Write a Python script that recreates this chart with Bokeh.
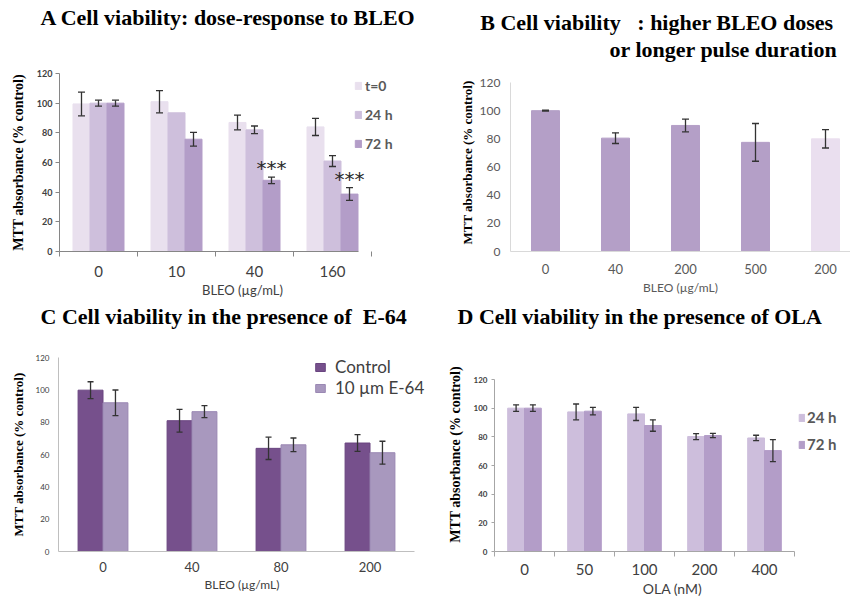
from bokeh.plotting import figure
from bokeh.models import (Range1d, FixedTicker, Whisker, TeeHead, ColumnDataSource,
                          Legend, LegendItem, Title)
from bokeh.layouts import row, column
from bokeh.embed import file_html
from bokeh.resources import INLINE

# ---------------- data ----------------
# Panel A
a_doses = ["0", "10", "40", "160"]
a_series = ["t=0", "24 h", "72 h"]
a_t0 = [99.5, 101, 87, 84]
a_t0_err = [8, 7.5, 5, 5.8]
a_24 = [100, 93.5, 82, 61]
a_24_err = [2, 0, 2.6, 3.7]
a_72 = [100, 75.7, 48, 38.7]
a_72_err = [2, 4.6, 2.2, 4.3]
a_sig = ["", "", "***", "***"]

# Panel B
b_doses = ["0", "40", "200", "500", "200"]
b_vals = [100, 80.5, 89.5, 77.5, 80]
b_err = [0.3, 3.8, 4.5, 13.4, 6.5]

# Panel C
c_doses = ["0", "40", "80", "200"]
c_series = ["Control", "10 µm E-64"]
c_ctrl = [99.8, 80.9, 63.8, 67.1]
c_ctrl_err = [5.2, 7, 6.9, 5.2]
c_e64 = [92, 86.5, 66, 61.1]
c_e64_err = [7.9, 3.7, 4.2, 7.1]

# Panel D
d_doses = ["0", "50", "100", "200", "400"]
d_series = ["24 h", "72 h"]
d_24 = [100, 97.4, 96, 80.2, 79.2]
d_24_err = [2.3, 5.5, 4.6, 2.1, 1.9]
d_72 = [100, 97.9, 87.9, 80.9, 70.4]
d_72_err = [2.3, 2.6, 4, 1.5, 7.7]

y_ticks = [0, 20, 40, 60, 80, 100, 120]
y_max = 120
y_title = "MTT absorbance (% control)"

SERIF = "Liberation Serif"
SANS = "Lato"
ERR = "#333333"


def base_fig(w, h, frame_w, px_per_cat, frame_h, data_h, bl, br, bt, bb):
    x_end = -0.5 + frame_w / px_per_cat
    y_end = y_max * frame_h / data_h
    p = figure(width=w, height=h, x_range=Range1d(-0.5, x_end), y_range=Range1d(0, y_end),
               output_backend="svg", toolbar_location=None, title=None,
               min_border_left=bl, min_border_right=br, min_border_top=bt, min_border_bottom=bb)
    p.outline_line_color = None
    p.grid.visible = False
    p.background_fill_color = "white"
    p.border_fill_color = "white"
    return p


def style_axes(p, cats, x_title, y_tick_font, y_tick_bold, y_tick_out, x_tick_font,
               x_title_font, axis_col, x_std, x_lab_std, y_std, y_lab_std, y_title_size,
               minor=False, tick_col="#404040", x_bounds=None):
    n = len(cats)
    if minor:
        xt = FixedTicker(ticks=list(range(n)), minor_ticks=[i - 0.5 for i in range(n + 1)])
    else:
        xt = FixedTicker(ticks=list(range(n)), minor_ticks=[])
    p.xaxis.ticker = xt
    if x_bounds is not None:
        p.xaxis.bounds = x_bounds
    p.xaxis.major_label_overrides = {i: c for i, c in enumerate(cats)}
    p.xaxis.major_tick_out = 0
    p.xaxis.major_tick_in = 0
    p.xaxis.major_tick_line_color = None
    if minor:
        p.xaxis.minor_tick_out = 5
        p.xaxis.minor_tick_in = 0
        p.xaxis.minor_tick_line_color = axis_col
    else:
        p.xaxis.minor_tick_line_color = None
    p.xaxis.axis_line_color = axis_col
    p.xaxis.major_label_text_font = SANS
    p.xaxis.major_label_text_font_size = x_tick_font
    p.xaxis.major_label_text_color = tick_col
    p.xaxis.major_label_standoff = x_std
    p.xaxis.axis_label = x_title
    p.xaxis.axis_label_text_font = SANS
    p.xaxis.axis_label_text_font_size = x_title_font
    p.xaxis.axis_label_text_font_style = "normal"
    p.xaxis.axis_label_text_color = tick_col
    p.xaxis.axis_label_standoff = x_lab_std

    p.yaxis.ticker = FixedTicker(ticks=y_ticks, minor_ticks=[])
    p.yaxis.bounds = (0, y_max)
    p.yaxis.axis_line_color = axis_col
    p.yaxis.minor_tick_line_color = None
    if y_tick_out > 0:
        p.yaxis.major_tick_out = y_tick_out
        p.yaxis.major_tick_in = 0
        p.yaxis.major_tick_line_color = axis_col
    else:
        p.yaxis.major_tick_out = 0
        p.yaxis.major_tick_in = 0
        p.yaxis.major_tick_line_color = None
    p.yaxis.major_label_text_font = SANS
    p.yaxis.major_label_text_font_size = y_tick_font
    p.yaxis.major_label_text_font_style = "bold" if y_tick_bold else "normal"
    p.yaxis.major_label_text_color = tick_col
    p.yaxis.major_label_standoff = y_std
    p.yaxis.axis_label = y_title
    p.yaxis.axis_label_text_font = SERIF
    p.yaxis.axis_label_text_font_style = "bold"
    p.yaxis.axis_label_text_font_size = y_title_size
    p.yaxis.axis_label_text_color = "black"
    p.yaxis.axis_label_standoff = y_lab_std


def add_bars(p, n_series, j, vals, errs, bar_w, color, line_color=None, head=7):
    xs = [i + (j - (n_series - 1) / 2) * bar_w for i in range(len(vals))]
    cols = color if isinstance(color, list) else [color] * len(vals)
    src = ColumnDataSource(dict(x=xs, top=vals, color=cols))
    r = p.vbar(x="x", top="top", width=bar_w, bottom=0, source=src, fill_color="color",
               line_color=line_color if line_color else "color", line_width=1)
    keep = [k for k, e in enumerate(errs) if e > 0]
    wsrc = ColumnDataSource(dict(base=[xs[k] for k in keep],
                                 upper=[vals[k] + errs[k] for k in keep],
                                 lower=[vals[k] - errs[k] for k in keep]))
    w = Whisker(source=wsrc, base="base", upper="upper", lower="lower",
                line_color=ERR, line_width=1.3, level="annotation",
                upper_head=TeeHead(size=head, line_color=ERR, line_width=1.3),
                lower_head=TeeHead(size=head, line_color=ERR, line_width=1.3))
    p.add_layout(w)
    return r, xs


def add_spacer(p, gap):
    # invisible one-pixel title used only to keep a gap between title and plot
    p.add_layout(Title(text=" ", text_font_size="1px", standoff=gap, text_color="white"), "above")


def add_title(p, text, size, align, offset, standoff=0):
    p.add_layout(Title(text=text, align=align, offset=offset, standoff=standoff,
                       text_font=SERIF, text_font_size=size, text_font_style="bold",
                       text_color="black"), "above")


def make_legend(items, loc, gw, gh, spacing, standoff, font_size, bold, color):
    return Legend(items=items, location=loc, orientation="vertical", margin=0, padding=0,
                  glyph_width=gw, glyph_height=gh, spacing=spacing, label_standoff=standoff,
                  label_text_font=SANS, label_text_font_size=font_size,
                  label_text_font_style="bold" if bold else "normal",
                  label_text_color=color, border_line_color=None, background_fill_alpha=0)


# ---------------- Panel A ----------------
A_W = 0.218
pA = base_fig(425, 300, 366, 78, 178, 178, 59, 0, 73, 49)
style_axes(pA, a_doses, "BLEO (µg/mL)", "9px", True, 4, "15px", "13px", "#868686",
           9, 2, 3, 8, "14px", minor=True,
           x_bounds=(-0.5, len(a_doses) - 1 + 1.5 * A_W))
rA = []
for j, (vals, errs, col) in enumerate([(a_t0, a_t0_err, "#E9E0EE"),
                                      (a_24, a_24_err, "#CEBFDC"),
                                      (a_72, a_72_err, "#B39DC8")]):
    r, xs = add_bars(pA, 3, j, vals, errs, A_W, col)
    rA.append(r)
    if j == 2:
        a72_x = xs
sk = [k for k, s in enumerate(a_sig) if s]
pA.text(x=[a72_x[k] for k in sk], y=[a_72[k] + a_72_err[k] + 6 for k in sk],
        text=[a_sig[k] for k in sk], text_align="center", text_baseline="middle",
        text_font_size="20px", text_font={"value": "DejaVu Sans"},
        text_color="#2a2a2a")
legA = make_legend([LegendItem(label=s, renderers=[r]) for s, r in zip(a_series, rA)],
                   (295, 99), 8, 9, 12, 3, "14px", True, "#595959")
pA.add_layout(legA)
add_spacer(pA, 41)
add_title(pA, "A Cell viability: dose-response to BLEO", "22px", "left", -19)

# ---------------- Panel B ----------------
B_W = 0.4
pB = base_fig(425, 300, 340, 70, 178, 169, 85, 0, 73, 49)
style_axes(pB, b_doses, "BLEO (µg/mL)", "12px", False, 0, "13px", "12px", "#D9D9D9",
           12, 3, 10, 2, "13px", minor=False, tick_col="#595959")
b_colors = ["#B49FC7"] * 4 + ["#EADFEF"]
add_bars(pB, 1, 0, b_vals, b_err, B_W, b_colors, head=7)
add_spacer(pB, 9)
add_title(pB, "or longer pulse duration", "22px", "right", 13)
add_title(pB, "B Cell viability\u00a0\u00a0\u00a0: higher BLEO doses", "22px", "right", 17)

# ---------------- Panel C ----------------
C_W = 0.28
pC = base_fig(425, 299, 367, 89, 194, 194, 58, 0, 57, 48)
style_axes(pC, c_doses, "BLEO (µg/mL)", "8px", False, 0, "13px", "12px", "#BFBFBF",
           10, 2, 9, 7, "13px", minor=False, tick_col="#404040",
           x_bounds=(-0.5, len(c_doses) - 0.5))
rC1, _ = add_bars(pC, 2, 0, c_ctrl, c_ctrl_err, C_W, "#76508C", "#6A4580", head=6)
rC2, _ = add_bars(pC, 2, 1, c_e64, c_e64_err, C_W, "#A898BE", "#9A88B3", head=6)
legC = make_legend([LegendItem(label=s, renderers=[r]) for s, r in zip(c_series, [rC1, rC2])],
                   (256, 153), 12, 10, 0, 9, "17px", False, "#404040")
pC.add_layout(legC)
add_spacer(pC, 26)
add_title(pC, "C Cell viability in the presence of\u00a0 E-64", "22px", "left", -18)

# ---------------- Panel D ----------------
D_W = 0.28
pD = base_fig(425, 299, 356, 60, 194, 172, 69, 0, 57, 48)
style_axes(pD, d_doses, "OLA (nM)", "8px", True, 3, "15px", "14px", "#A6A6A6",
           7, 2, 4, 8, "14px", minor=True, tick_col="#404040",
           x_bounds=(-0.5, len(d_doses) - 0.5))
rD1, _ = add_bars(pD, 2, 0, d_24, d_24_err, D_W, "#CDBEDC", head=6)
rD2, _ = add_bars(pD, 2, 1, d_72, d_72_err, D_W, "#B39DC8", head=6)
legD = make_legend([LegendItem(label=s, renderers=[r]) for s, r in zip(d_series, [rD1, rD2])],
                   (304, 98), 7, 9, 9, 2, "15px", True, "#595959")
pD.add_layout(legD)
add_spacer(pD, 26)
add_title(pD, "D Cell viability in the presence of OLA", "22px", "left", -37)

layout = column(row(pA, pB), row(pC, pD))
open("out.html", "w").write(file_html(layout, INLINE))
